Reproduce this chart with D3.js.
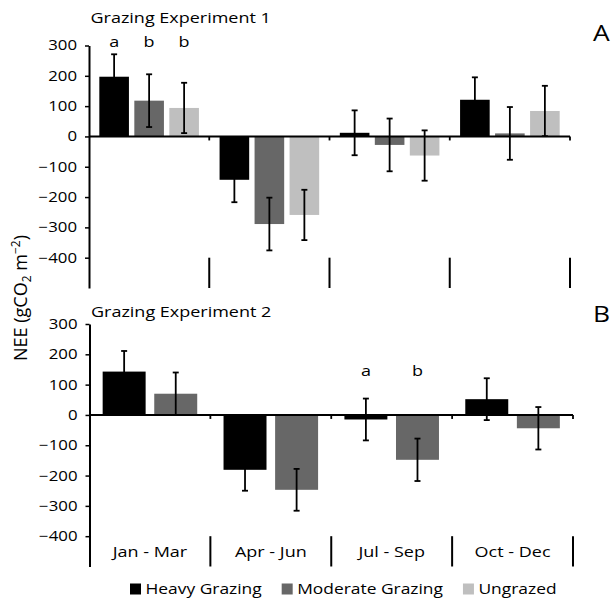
<!DOCTYPE html>
<html><head><meta charset="utf-8">
<script src="https://cdn.jsdelivr.net/npm/d3@7"></script>
<style>
body{margin:0;background:#fff}
svg{display:block}
text{font-family:"Open Sans",sans-serif;fill:#000}
</style>
</head><body>
<svg id="c" width="613" height="601"></svg>
<script>
// ---- data ----
const categories = ["Jan - Mar", "Apr - Jun", "Jul - Sep", "Oct - Dec"];
const seriesNames = ["Heavy Grazing", "Moderate Grazing", "Ungrazed"];
const yTicks = [300, 200, 100, 0, -100, -200, -300, -400];
const yDomain = [-500, 300];

const exp1Heavy = [197, -143, 12, 121];
const exp1HeavyErr = [74, 74, 74, 74];
const exp1Moderate = [118, -289, -28, 10];
const exp1ModerateErr = [87, 87, 87, 87];
const exp1Ungrazed = [94, -259, -63, 84];
const exp1UngrazedErr = [83, 83, 83, 83];

const exp2Heavy = [143, -181, -15, 52];
const exp2HeavyErr = [68, 69, 69, 69];
const exp2Moderate = [70, -247, -148, -44];
const exp2ModerateErr = [70, 69, 70, 70];

const exp1Letters = ["a", "b", "b"];   // over Jan - Mar
const exp2Letters = ["a", "b"];        // over Jul - Sep

const colors = {"Heavy Grazing": "#000000", "Moderate Grazing": "#676767", "Ungrazed": "#bfbfbf"};

const svg = d3.select("#c");
const SX = 1.2; // horizontal text stretch of the reference

function label(g, x, y, str, size, anchor) {
  return g.append("text")
    .attr("transform", `translate(${x},${y}) scale(${SX},1)`)
    .attr("text-anchor", anchor || "start")
    .style("font-size", size + "px")
    .text(str);
}

function drawPanel(cfg) {
  const g = svg.append("g");
  const y = d3.scaleLinear().domain(yDomain).range([cfg.yBot, cfg.yTop]);
  const xc = d3.scaleBand().domain(categories).range([cfg.x0, cfg.x1]).padding(0);
  const names = cfg.series.map(s => s.name);
  const xs = d3.scaleBand().domain(names).range([0, xc.bandwidth()])
    .paddingInner(cfg.pi).paddingOuter(cfg.po);

  // bars
  cfg.series.forEach(s => {
    g.selectAll(null).data(categories).enter().append("rect")
      .attr("x", (c) => xc(c) + xs(s.name))
      .attr("width", xs.bandwidth())
      .attr("y", (c, i) => Math.min(y(s.values[i]), y(0)))
      .attr("height", (c, i) => Math.abs(y(s.values[i]) - y(0)))
      .attr("fill", colors[s.name]);
  });

  // zero line (category axis)
  g.append("line").attr("x1", cfg.x0).attr("x2", cfg.x1)
    .attr("y1", y(0)).attr("y2", y(0)).attr("stroke", "#000").attr("stroke-width", 2);
  // small ticks on zero line and long separators at bottom
  categories.forEach(c => {
    const xe = xc(c) + xc.bandwidth();
    g.append("line").attr("x1", xe).attr("x2", xe).attr("y1", y(0)).attr("y2", y(0) + 4)
      .attr("stroke", "#000").attr("stroke-width", 1.8);
    g.append("line").attr("x1", xe).attr("x2", xe).attr("y1", y(-400)).attr("y2", y(-500))
      .attr("stroke", "#000").attr("stroke-width", 2);
  });

  // error bars
  cfg.series.forEach(s => {
    categories.forEach((c, i) => {
      const cx = xc(c) + xs(s.name) + xs.bandwidth() / 2;
      const hi = y(s.values[i] + s.errs[i]), lo = y(s.values[i] - s.errs[i]);
      g.append("line").attr("x1", cx).attr("x2", cx).attr("y1", hi).attr("y2", lo)
        .attr("stroke", "#000").attr("stroke-width", 1.8);
      [hi, lo].forEach(yy => g.append("line").attr("x1", cx - 3).attr("x2", cx + 3)
        .attr("y1", yy).attr("y2", yy).attr("stroke", "#000").attr("stroke-width", 1.8));
    });
  });

  // y axis
  const ax = g.append("g").attr("transform", `translate(${cfg.x0},0)`)
    .call(d3.axisLeft(y).tickValues(yTicks).tickSize(4).tickSizeOuter(0).tickPadding(6));
  ax.select(".domain").attr("stroke", "#000").attr("stroke-width", 2);
  ax.selectAll(".tick line").attr("stroke", "#000").attr("stroke-width", 1.5);
  ax.selectAll(".tick text").attr("transform", `scale(${SX},1)`).style("font-size", "14px");

  // significance letters
  cfg.letters.forEach((l, i) => {
    const cx = xc(cfg.letterCat) + xs(names[i]) + xs.bandwidth() / 2;
    label(g, cx, cfg.letterY, l, 15, "middle");
  });

  // title and panel tag
  label(g, cfg.x0 + 1.5, cfg.titleY, cfg.title, 15, "start");
  label(g, 593, cfg.tagY, cfg.tag, 22, "start");

  if (cfg.catLabels) {
    categories.forEach(c => label(g, xc(c) + xc.bandwidth() / 2, 557, c, 15, "middle"));
  }
}

drawPanel({
  x0: 89, x1: 570, yTop: 45.5, yBot: 288, pi: 0.154, po: 0.295,
  series: [
    {name: seriesNames[0], values: exp1Heavy, errs: exp1HeavyErr},
    {name: seriesNames[1], values: exp1Moderate, errs: exp1ModerateErr},
    {name: seriesNames[2], values: exp1Ungrazed, errs: exp1UngrazedErr}
  ],
  letters: exp1Letters, letterCat: categories[0], letterY: 46.5,
  title: "Grazing Experiment 1", titleY: 22.5, tag: "A", tagY: 40.5, catLabels: false
});

drawPanel({
  x0: 89.5, x1: 573, yTop: 324, yBot: 566.5, pi: 0.167, po: 0.255,
  series: [
    {name: seriesNames[0], values: exp2Heavy, errs: exp2HeavyErr},
    {name: seriesNames[1], values: exp2Moderate, errs: exp2ModerateErr}
  ],
  letters: exp2Letters, letterCat: categories[2], letterY: 376,
  title: "Grazing Experiment 2", titleY: 316.5, tag: "B", tagY: 321.5, catLabels: true
});

// y axis title
const yt = svg.append("text")
  .attr("transform", "translate(27,298) rotate(-90)")
  .attr("text-anchor", "middle")
  .style("font-size", "18px");
yt.append("tspan").text("NEE (gCO");
yt.append("tspan").attr("dy", 4).style("font-size", "12px").text("2");
yt.append("tspan").attr("dy", -4).text(" m");
yt.append("tspan").attr("dy", -7).style("font-size", "12px").text("\u22122");
yt.append("tspan").attr("dy", 7).text(")");

// legend
const lg = svg.append("g");
let lx = 130;
seriesNames.forEach(n => {
  lg.append("rect").attr("x", lx).attr("y", 583.5).attr("width", 11).attr("height", 11)
    .attr("fill", colors[n]);
  const t = label(lg, lx + 15.5, 594, n, 14.5, "start");
  lx += 15.5 + t.node().getComputedTextLength() * SX + 20;
});
</script>
</body></html>
